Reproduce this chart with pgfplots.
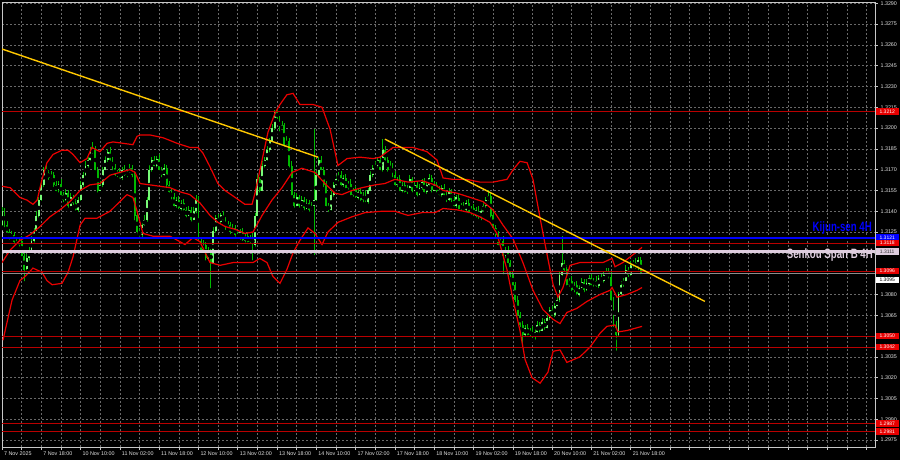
\documentclass[border=0pt]{standalone}
\usepackage{fontspec}
\setmainfont{Liberation Sans}
\newfontfamily\dejavu{DejaVu Sans}
\usepackage{pgfplots}
\pgfplotsset{compat=1.18}
\usepackage{pgfplotstable}
\definecolor{wick}{RGB}{0,185,0}
\definecolor{bull}{RGB}{120,250,120}
\definecolor{bear}{RGB}{0,185,0}
\definecolor{band}{RGB}{235,0,0}
\definecolor{lvl}{RGB}{185,0,0}
\definecolor{kijun}{RGB}{0,0,255}
\definecolor{senkou}{RGB}{222,205,222}
\definecolor{bid}{RGB}{140,140,140}
\definecolor{trend}{RGB}{255,200,0}
\definecolor{gridc}{RGB}{105,105,105}
\definecolor{framec}{RGB}{200,200,200}
\definecolor{tickc}{RGB}{225,225,225}
\definecolor{boxred}{RGB}{230,0,0}

\pgfplotstableread{
i o h l c
0 1.3130 1.3143 1.3128 1.3140
1 1.3140 1.3142 1.3127 1.3130
2 1.3130 1.3133 1.3123 1.3125
3 1.3125 1.3127 1.3118 1.3121
4 1.3121 1.3126 1.3119 1.3123
5 1.3123 1.3125 1.3115 1.3118
6 1.3118 1.3121 1.3114 1.3116
7 1.3116 1.3121 1.3113 1.3119
8 1.3119 1.3122 1.3106 1.3108
9 1.3108 1.3110 1.3088 1.3098
10 1.3098 1.3109 1.3096 1.3106
11 1.3106 1.3114 1.3103 1.3112
12 1.3112 1.3122 1.3110 1.3119
13 1.3119 1.3128 1.3116 1.3126
14 1.3126 1.3140 1.3124 1.3137
15 1.3137 1.3150 1.3134 1.3148
16 1.3148 1.3162 1.3146 1.3159
17 1.3159 1.3172 1.3156 1.3170
18 1.3170 1.3173 1.3166 1.3168
19 1.3168 1.3170 1.3161 1.3164
20 1.3164 1.3169 1.3162 1.3166
21 1.3166 1.3168 1.3156 1.3159
22 1.3159 1.3162 1.3153 1.3155
23 1.3155 1.3162 1.3152 1.3160
24 1.3160 1.3163 1.3150 1.3152
25 1.3152 1.3154 1.3145 1.3148
26 1.3148 1.3156 1.3146 1.3153
27 1.3153 1.3155 1.3141 1.3144
28 1.3144 1.3153 1.3142 1.3150
29 1.3150 1.3152 1.3143 1.3146
30 1.3146 1.3149 1.3139 1.3141
31 1.3141 1.3150 1.3138 1.3148
32 1.3148 1.3162 1.3146 1.3159
33 1.3159 1.3168 1.3156 1.3166
34 1.3166 1.3176 1.3164 1.3173
35 1.3173 1.3179 1.3170 1.3177
36 1.3177 1.3186 1.3175 1.3183
37 1.3183 1.3190 1.3180 1.3184
38 1.3184 1.3187 1.3168 1.3170
39 1.3170 1.3172 1.3152 1.3155
40 1.3155 1.3162 1.3153 1.3159
41 1.3159 1.3172 1.3156 1.3170
42 1.3170 1.3180 1.3168 1.3177
43 1.3177 1.3185 1.3174 1.3183
44 1.3183 1.3186 1.3175 1.3177
45 1.3177 1.3179 1.3168 1.3171
46 1.3171 1.3174 1.3164 1.3166
47 1.3166 1.3170 1.3163 1.3168
48 1.3168 1.3171 1.3162 1.3164
49 1.3164 1.3172 1.3161 1.3170
50 1.3170 1.3173 1.3164 1.3166
51 1.3166 1.3170 1.3163 1.3168
52 1.3168 1.3174 1.3166 1.3171
53 1.3171 1.3173 1.3163 1.3166
54 1.3166 1.3169 1.3132 1.3137
55 1.3137 1.3139 1.3122 1.3125
56 1.3125 1.3128 1.3120 1.3123
57 1.3123 1.3132 1.3120 1.3130
58 1.3130 1.3137 1.3128 1.3134
59 1.3134 1.3150 1.3131 1.3148
60 1.3148 1.3173 1.3146 1.3170
61 1.3170 1.3179 1.3167 1.3177
62 1.3177 1.3180 1.3171 1.3173
63 1.3173 1.3180 1.3170 1.3178
64 1.3178 1.3181 1.3168 1.3170
65 1.3170 1.3172 1.3163 1.3166
66 1.3166 1.3174 1.3164 1.3171
67 1.3171 1.3173 1.3156 1.3159
68 1.3159 1.3162 1.3152 1.3154
69 1.3154 1.3156 1.3147 1.3150
70 1.3150 1.3153 1.3142 1.3144
71 1.3144 1.3150 1.3141 1.3148
72 1.3148 1.3151 1.3140 1.3142
73 1.3142 1.3148 1.3139 1.3146
74 1.3146 1.3149 1.3139 1.3141
75 1.3141 1.3143 1.3134 1.3137
76 1.3137 1.3144 1.3135 1.3141
77 1.3141 1.3143 1.3131 1.3134
78 1.3134 1.3143 1.3132 1.3140
79 1.3140 1.3152 1.3137 1.3148
80 1.3148 1.3151 1.3117 1.3119
81 1.3119 1.3121 1.3109 1.3112
82 1.3112 1.3119 1.3110 1.3116
83 1.3116 1.3118 1.3103 1.3106
84 1.3106 1.3114 1.3104 1.3111
85 1.3111 1.3113 1.3083 1.3103
86 1.3103 1.3129 1.3101 1.3126
87 1.3126 1.3137 1.3123 1.3135
88 1.3135 1.3138 1.3130 1.3132
89 1.3132 1.3139 1.3129 1.3137
90 1.3137 1.3140 1.3132 1.3134
91 1.3134 1.3136 1.3125 1.3128
92 1.3128 1.3133 1.3126 1.3130
93 1.3130 1.3132 1.3122 1.3125
94 1.3125 1.3131 1.3123 1.3128
95 1.3128 1.3130 1.3120 1.3123
96 1.3123 1.3126 1.3119 1.3121
97 1.3121 1.3127 1.3118 1.3125
98 1.3125 1.3128 1.3117 1.3119
99 1.3119 1.3124 1.3116 1.3122
100 1.3122 1.3125 1.3116 1.3118
101 1.3118 1.3123 1.3115 1.3121
102 1.3121 1.3124 1.3103 1.3116
103 1.3116 1.3139 1.3113 1.3137
104 1.3137 1.3166 1.3135 1.3163
105 1.3163 1.3165 1.3152 1.3155
106 1.3155 1.3176 1.3153 1.3173
107 1.3173 1.3179 1.3170 1.3177
108 1.3177 1.3187 1.3175 1.3184
109 1.3184 1.3193 1.3181 1.3191
110 1.3191 1.3203 1.3189 1.3200
111 1.3200 1.3213 1.3197 1.3212
112 1.3212 1.3213 1.3205 1.3207
113 1.3207 1.3209 1.3196 1.3199
114 1.3199 1.3205 1.3197 1.3202
115 1.3202 1.3204 1.3185 1.3188
116 1.3188 1.3194 1.3186 1.3191
117 1.3191 1.3193 1.3170 1.3173
118 1.3173 1.3176 1.3150 1.3152
119 1.3152 1.3154 1.3141 1.3144
120 1.3144 1.3153 1.3142 1.3150
121 1.3150 1.3152 1.3141 1.3144
122 1.3144 1.3151 1.3142 1.3148
123 1.3148 1.3150 1.3139 1.3142
124 1.3142 1.3149 1.3140 1.3146
125 1.3146 1.3148 1.3138 1.3141
126 1.3141 1.3147 1.3139 1.3144
127 1.3144 1.3199 1.3107 1.3148
128 1.3148 1.3169 1.3146 1.3166
129 1.3166 1.3179 1.3163 1.3177
130 1.3177 1.3180 1.3168 1.3170
131 1.3170 1.3172 1.3156 1.3159
132 1.3159 1.3162 1.3142 1.3144
133 1.3144 1.3146 1.3138 1.3141
134 1.3141 1.3155 1.3139 1.3152
135 1.3152 1.3161 1.3149 1.3159
136 1.3159 1.3166 1.3157 1.3163
137 1.3163 1.3168 1.3160 1.3166
138 1.3166 1.3169 1.3157 1.3159
139 1.3159 1.3166 1.3156 1.3164
140 1.3164 1.3167 1.3155 1.3157
141 1.3157 1.3162 1.3154 1.3160
142 1.3160 1.3163 1.3150 1.3152
143 1.3152 1.3157 1.3149 1.3155
144 1.3155 1.3158 1.3148 1.3150
145 1.3150 1.3156 1.3147 1.3154
146 1.3154 1.3157 1.3146 1.3148
147 1.3148 1.3154 1.3145 1.3152
148 1.3152 1.3155 1.3145 1.3147
149 1.3147 1.3157 1.3144 1.3155
150 1.3155 1.3169 1.3153 1.3166
151 1.3166 1.3173 1.3163 1.3171
152 1.3171 1.3176 1.3169 1.3173
153 1.3173 1.3179 1.3170 1.3177
154 1.3177 1.3180 1.3168 1.3170
155 1.3170 1.3192 1.3167 1.3184
156 1.3184 1.3187 1.3175 1.3177
157 1.3177 1.3179 1.3167 1.3170
158 1.3170 1.3176 1.3168 1.3173
159 1.3173 1.3175 1.3163 1.3166
160 1.3166 1.3169 1.3157 1.3159
161 1.3159 1.3165 1.3156 1.3163
162 1.3163 1.3166 1.3153 1.3155
163 1.3155 1.3161 1.3152 1.3159
164 1.3159 1.3162 1.3152 1.3154
165 1.3154 1.3159 1.3151 1.3157
166 1.3157 1.3166 1.3155 1.3163
167 1.3163 1.3165 1.3152 1.3155
168 1.3155 1.3162 1.3153 1.3159
169 1.3159 1.3161 1.3149 1.3152
170 1.3152 1.3160 1.3150 1.3157
171 1.3157 1.3163 1.3154 1.3161
172 1.3161 1.3164 1.3152 1.3154
173 1.3154 1.3161 1.3151 1.3159
174 1.3159 1.3167 1.3157 1.3164
175 1.3164 1.3166 1.3152 1.3155
176 1.3155 1.3162 1.3153 1.3159
177 1.3159 1.3161 1.3152 1.3155
178 1.3155 1.3158 1.3150 1.3152
179 1.3152 1.3159 1.3149 1.3157
180 1.3157 1.3160 1.3150 1.3152
181 1.3152 1.3154 1.3145 1.3148
182 1.3148 1.3157 1.3146 1.3154
183 1.3154 1.3156 1.3145 1.3148
184 1.3148 1.3151 1.3142 1.3144
185 1.3144 1.3152 1.3141 1.3150
186 1.3150 1.3153 1.3140 1.3142
187 1.3142 1.3146 1.3139 1.3144
188 1.3144 1.3147 1.3139 1.3141
189 1.3141 1.3148 1.3138 1.3146
190 1.3146 1.3149 1.3137 1.3139
191 1.3139 1.3144 1.3136 1.3142
192 1.3142 1.3145 1.3135 1.3137
193 1.3137 1.3143 1.3134 1.3141
194 1.3141 1.3144 1.3133 1.3135
195 1.3135 1.3142 1.3132 1.3140
196 1.3140 1.3147 1.3138 1.3144
197 1.3144 1.3150 1.3141 1.3148
198 1.3148 1.3155 1.3146 1.3151
199 1.3151 1.3153 1.3134 1.3137
200 1.3137 1.3140 1.3126 1.3128
201 1.3128 1.3130 1.3120 1.3123
202 1.3123 1.3126 1.3114 1.3116
203 1.3116 1.3121 1.3113 1.3119
204 1.3119 1.3122 1.3093 1.3108
205 1.3108 1.3114 1.3105 1.3112
206 1.3112 1.3115 1.3101 1.3103
207 1.3103 1.3105 1.3091 1.3094
208 1.3094 1.3097 1.3085 1.3087
209 1.3087 1.3089 1.3073 1.3076
210 1.3076 1.3079 1.3063 1.3065
211 1.3065 1.3067 1.3055 1.3058
212 1.3058 1.3061 1.3042 1.3051
213 1.3051 1.3058 1.3048 1.3056
214 1.3056 1.3059 1.3049 1.3051
215 1.3051 1.3056 1.3048 1.3054
216 1.3054 1.3057 1.3047 1.3049
217 1.3049 1.3055 1.3046 1.3053
218 1.3053 1.3061 1.3051 1.3058
219 1.3058 1.3060 1.3051 1.3054
220 1.3054 1.3063 1.3052 1.3060
221 1.3060 1.3062 1.3053 1.3056
222 1.3056 1.3066 1.3054 1.3063
223 1.3063 1.3071 1.3060 1.3069
224 1.3069 1.3072 1.3063 1.3065
225 1.3065 1.3074 1.3062 1.3072
226 1.3072 1.3079 1.3070 1.3076
227 1.3076 1.3096 1.3073 1.3094
228 1.3094 1.3122 1.3092 1.3103
229 1.3103 1.3105 1.3095 1.3098
230 1.3098 1.3101 1.3085 1.3087
231 1.3087 1.3092 1.3084 1.3090
232 1.3090 1.3093 1.3081 1.3083
233 1.3083 1.3089 1.3080 1.3087
234 1.3087 1.3090 1.3078 1.3080
235 1.3080 1.3087 1.3077 1.3085
236 1.3085 1.3092 1.3083 1.3089
237 1.3089 1.3091 1.3080 1.3083
238 1.3083 1.3091 1.3081 1.3088
239 1.3088 1.3094 1.3085 1.3092
240 1.3092 1.3095 1.3085 1.3087
241 1.3087 1.3092 1.3084 1.3090
242 1.3090 1.3093 1.3084 1.3086
243 1.3086 1.3094 1.3083 1.3092
244 1.3092 1.3095 1.3088 1.3090
245 1.3090 1.3096 1.3087 1.3094
246 1.3094 1.3099 1.3092 1.3096
247 1.3096 1.3099 1.3090 1.3093
248 1.3093 1.3096 1.3074 1.3076
249 1.3076 1.3078 1.3055 1.3058
250 1.3058 1.3061 1.3038 1.3051
251 1.3051 1.3082 1.3048 1.3080
252 1.3080 1.3090 1.3078 1.3087
253 1.3087 1.3092 1.3084 1.3090
254 1.3090 1.3101 1.3088 1.3098
255 1.3098 1.3100 1.3091 1.3094
256 1.3094 1.3104 1.3092 1.3101
257 1.3101 1.3105 1.3098 1.3103
258 1.3103 1.3106 1.3097 1.3099
259 1.3099 1.3107 1.3096 1.3105
260 1.3105 1.3107 1.3093 1.3095
}\candles

\begin{document}
\begin{tikzpicture}
\useasboundingbox (0,0) rectangle (900bp,460bp);
\fill[black] (0,0) rectangle (900bp,460bp);
\node[anchor=west, text=tickc, font=\fontsize{5.7}{6}\selectfont, inner sep=0] at (4bp,453bp)
  {{\dejavu\fontsize{4.5}{5}\selectfont ▼}\ \ GBPUSD,H1\ \ 1.3105 1.3107 1.3093 1.3095};
\begin{axis}[
  at={(2bp,13bp)}, anchor=south west,
  scale only axis, width=873bp, height=445bp,
  xmin=0, xmax=355.46, ymin=1.2970, ymax=1.32909,
  clip mode=individual,
  axis background/.style={fill=black},
  axis line style={draw=framec, line width=0.8bp},
  grid=major,
  major grid style={draw=gridc, dash pattern=on 2bp off 2bp, line width=0.6bp},
  tick align=outside, major tick length=2.5bp,
  tick style={draw=framec, line width=0.6bp},
  xtick pos=bottom, ytick pos=right, yticklabel pos=right,
  /pgf/number format/assume math mode=true,
  tick label style={font=\fontsize{5.4}{6}\selectfont, text=tickc},
  xtick={0,8,...,352},
  xticklabels={{7 Nov 2025},{},{7 Nov 18:00},{},{10 Nov 10:00},{},{11 Nov 02:00},{},{11 Nov 18:00},{},{12 Nov 10:00},{},{13 Nov 02:00},{},{13 Nov 18:00},{},{14 Nov 10:00},{},{17 Nov 02:00},{},{17 Nov 18:00},{},{18 Nov 10:00},{},{19 Nov 02:00},{},{19 Nov 18:00},{},{20 Nov 10:00},{},{21 Nov 02:00},{},{21 Nov 18:00},{},{},{},{},{},{},{},{},{},{},{},{}},
  xticklabel style={anchor=north west, xshift=-1.5bp, yshift=1bp},
  ytick={1.2975,1.2990,1.3005,1.3020,1.3035,1.3050,1.3065,1.3080,1.3095,1.3110,1.3125,1.3140,1.3155,1.3170,1.3185,1.3200,1.3215,1.3230,1.3245,1.3260,1.3275,1.3290},
  yticklabels={1.2975,1.2990,1.3005,1.3020,1.3035,{},1.3065,1.3080,{},{},1.3125,1.3140,1.3155,1.3170,1.3185,1.3200,1.3215,1.3230,1.3245,1.3260,1.3275,1.3290},
  yticklabel style={anchor=west, xshift=-0.5bp},
]
% candles: wicks
\addplot[forget plot, only marks, mark=none,
  error bars/.cd, y dir=plus, y explicit, error mark=none,
  error bar style={line width=0.8bp, wick}]
  table[x=i, y=l, y error plus expr=\thisrow{h}-\thisrow{l}] {\candles};
% bodies up
\addplot[forget plot, only marks, mark=none,
  restrict expr to domain={\thisrow{c}-\thisrow{o}}{0:1},
  error bars/.cd, y dir=both, y explicit, error mark=none,
  error bar style={line width=1.9bp, bull}]
  table[x=i, y expr=(\thisrow{o}+\thisrow{c})/2,
        y error expr={max(abs(\thisrow{c}-\thisrow{o})/2,0.00003)}] {\candles};
% bodies down
\addplot[forget plot, only marks, mark=none,
  restrict expr to domain={\thisrow{c}-\thisrow{o}}{-1:-0.00001},
  error bars/.cd, y dir=both, y explicit, error mark=none,
  error bar style={line width=1.9bp, bear}]
  table[x=i, y expr=(\thisrow{o}+\thisrow{c})/2,
        y error expr={max(abs(\thisrow{c}-\thisrow{o})/2,0.00003)}] {\candles};

% bands
\addplot[band, line width=1.2bp] coordinates {
(0,1.3158) (3.3,1.3157) (7.3,1.3150) (10.2,1.3148) (12.6,1.3145) (14.3,1.3148) (16.3,1.3163) (18.3,1.3175) (20.8,1.3181) (24.4,1.3184) (26.9,1.3184) (28.9,1.3181) (31.8,1.3175) (34.6,1.3178) (36.6,1.3186) (39.9,1.3183) (42.8,1.3189) (45.2,1.3190) (49.3,1.3189) (53.3,1.3188) (55.0,1.3194) (56.2,1.3195) (60.3,1.3195) (65.6,1.3193) (71.3,1.3189) (76.5,1.3186) (79.8,1.3186) (81.8,1.3182) (84.7,1.3172) (87.9,1.3160) (90.8,1.3155) (94.9,1.3150) (98.9,1.3145) (101.8,1.3145) (103.0,1.3153) (105.9,1.3177) (108.3,1.3197) (111.2,1.3211) (113.2,1.3217) (116.0,1.3224) (118.5,1.3225) (121.3,1.3217) (126.6,1.3217) (130.3,1.3215) (133.6,1.3199) (136.8,1.3173) (140.5,1.3178) (145.8,1.3179) (151.1,1.3178) (153.9,1.3179) (159.2,1.3186) (167.3,1.3186) (173.0,1.3183) (177.1,1.3177) (179.6,1.3164) (183.6,1.3163) (189.3,1.3163) (194.6,1.3161) (199.9,1.3161) (205.6,1.3163) (208.1,1.3170) (210.9,1.3176) (213.8,1.3175) (216.2,1.3163) (219.1,1.3135) (221.9,1.3109) (224.4,1.3087) (226.4,1.3078) (228.4,1.3085) (231.3,1.3101) (235.3,1.3103) (244.7,1.3103) (248.4,1.3106) (249.6,1.3100) (252.8,1.3103) (258.6,1.3111) (260.6,1.3114)};
\addplot[band, line width=1.2bp] coordinates {
(0,1.3103) (3.3,1.3112) (7.3,1.3119) (11.4,1.3123) (15.5,1.3129) (19.5,1.3136) (23.6,1.3141) (27.7,1.3147) (31.8,1.3155) (35.8,1.3159) (39.9,1.3160) (44.0,1.3166) (48.0,1.3168) (52.1,1.3170) (54.2,1.3168) (56.2,1.3160) (60.3,1.3159) (64.3,1.3158) (68.4,1.3157) (72.5,1.3154) (76.5,1.3152) (80.6,1.3146) (84.7,1.3137) (87.9,1.3132) (90.8,1.3129) (94.9,1.3127) (98.9,1.3124) (102.2,1.3125) (105.9,1.3137) (109.9,1.3148) (114.0,1.3157) (118.1,1.3168) (122.1,1.3171) (127.4,1.3168) (131.5,1.3160) (135.6,1.3153) (138.4,1.3152) (142.5,1.3155) (146.6,1.3157) (151.9,1.3159) (155.9,1.3160) (160.0,1.3163) (165.3,1.3161) (171.0,1.3162) (176.3,1.3159) (179.6,1.3155) (185.3,1.3153) (190.6,1.3150) (195.8,1.3147) (199.9,1.3141) (204.0,1.3130) (208.1,1.3120) (212.1,1.3103) (216.2,1.3083) (220.3,1.3069) (224.4,1.3062) (227.2,1.3059) (230.0,1.3067) (234.1,1.3070) (238.2,1.3075) (243.5,1.3080) (247.6,1.3083) (248.4,1.3085) (250.4,1.3078) (254.5,1.3080) (258.6,1.3083) (260.6,1.3085)};
\addplot[band, line width=1.2bp] coordinates {
(0.4,1.3047) (4.1,1.3076) (7.3,1.3090) (9.4,1.3093) (12.6,1.3099) (16.3,1.3096) (18.3,1.3090) (20.4,1.3087) (24.4,1.3088) (26.9,1.3096) (28.9,1.3107) (31.8,1.3130) (33.8,1.3135) (38.7,1.3135) (44.0,1.3140) (48.0,1.3147) (50.9,1.3152) (53.3,1.3150) (55.0,1.3140) (57.4,1.3124) (61.5,1.3122) (68.4,1.3122) (72.5,1.3118) (74.5,1.3116) (77.8,1.3121) (80.6,1.3118) (84.7,1.3103) (88.8,1.3101) (94.1,1.3103) (99.8,1.3103) (102.2,1.3103) (105.0,1.3106) (107.9,1.3103) (110.3,1.3093) (113.2,1.3088) (116.0,1.3098) (118.5,1.3110) (121.3,1.3119) (124.6,1.3128) (127.4,1.3124) (130.3,1.3116) (132.7,1.3125) (136.8,1.3132) (142.5,1.3136) (147.8,1.3139) (154.7,1.3140) (160.0,1.3140) (165.3,1.3137) (171.0,1.3139) (176.3,1.3139) (179.6,1.3142) (185.3,1.3141) (190.6,1.3139) (194.6,1.3136) (198.7,1.3132) (201.5,1.3124) (205.6,1.3098) (208.1,1.3076) (210.9,1.3054) (213.0,1.3033) (215.8,1.3020) (219.1,1.3016) (222.3,1.3024) (224.4,1.3039) (227.2,1.3040) (230.0,1.3031) (235.3,1.3035) (239.4,1.3042) (243.5,1.3052) (246.3,1.3057) (249.6,1.3058) (250.8,1.3053) (254.5,1.3054) (260.6,1.3057)};

% horizontal levels
\addplot[lvl, line width=0.7bp] coordinates {(0,1.3212) (355.46,1.3212)};
\addplot[kijun, line width=2.2bp] coordinates {(0,1.3121) (355.46,1.3121)};
\addplot[lvl, line width=0.7bp] coordinates {(0,1.3117) (355.46,1.3117)};
\addplot[senkou, line width=2.5bp] coordinates {(0,1.3111) (355.46,1.3111)};
\addplot[lvl, line width=0.7bp] coordinates {(0,1.3097) (355.46,1.3097)};
\addplot[bid, line width=0.7bp] coordinates {(0,1.3095) (355.46,1.3095)};
\addplot[lvl, line width=0.7bp] coordinates {(0,1.3050) (355.46,1.3050)};
\addplot[lvl, line width=0.7bp] coordinates {(0,1.3042) (355.46,1.3042)};
\addplot[lvl, line width=0.7bp] coordinates {(0,1.2987) (355.46,1.2987)};
\addplot[lvl, line width=0.7bp] coordinates {(0,1.2981) (355.46,1.2981)};

% trend lines
\addplot[trend, line width=1.4bp] coordinates {(0,1.3257) (128.7,1.3179)};
\addplot[trend, line width=1.4bp] coordinates {(155.9,1.3192) (286.2,1.3075)};

% level texts
\node[anchor=south east, text=kijun, font=\fontsize{9.7}{10}\selectfont\bfseries, inner sep=0, xshift=-3bp, yshift=3.5bp]
  at (axis cs:355.46,1.3121) {\scalebox{1}[1.4]{Kijun-sen 4H}};
\node[anchor=east, text=senkou, font=\fontsize{9.7}{10}\selectfont\bfseries, inner sep=0, xshift=-2bp, yshift=-4bp]
  at (axis cs:355.46,1.3111) {\scalebox{1}[1.4]{Senkou Span B 4H}};

% right price boxes
\tikzset{pbox/.style={anchor=west, inner sep=0, minimum width=23bp, minimum height=6.5bp, font=\fontsize{5}{6}\selectfont, xshift=0.5bp}}
\node[pbox, fill=boxred, text=white] at (axis cs:355.46,1.3212) {1.3212};
\node[pbox, fill=kijun, text=white] at (axis cs:355.46,1.3121) {1.3121};
\node[pbox, fill=boxred, text=white] at (axis cs:355.46,1.3117) {1.3118};
\node[pbox, fill=senkou, text=black!80] at (axis cs:355.46,1.3111) {1.3111};
\node[pbox, fill=boxred, text=white] at (axis cs:355.46,1.3097) {1.3096};
\node[pbox, fill=white, text=black, minimum height=6bp] at (axis cs:355.46,1.30905) {1.3095};
\node[pbox, fill=boxred, text=white] at (axis cs:355.46,1.3050) {1.3050};
\node[pbox, fill=boxred, text=white] at (axis cs:355.46,1.3042) {1.3042};
\node[pbox, fill=boxred, text=white] at (axis cs:355.46,1.2987) {1.2987};
\node[pbox, fill=boxred, text=white] at (axis cs:355.46,1.2981) {1.2981};
\end{axis}
\end{tikzpicture}
\end{document}
